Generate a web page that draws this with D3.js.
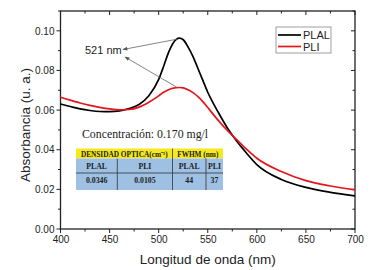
<!DOCTYPE html>
<html><head><meta charset="utf-8">
<script src="https://cdn.jsdelivr.net/npm/d3@7"></script>
<style>body{margin:0;background:#fff}svg{display:block}</style>
</head><body>
<script>
const wavelength = [400,410,420,430,440,450,460,470,480,490,500,505,510,515,521,525,530,535,540,545,550,555,560,570,580,590,600,625,650,675,700];
const plal = [0.0631,0.0618,0.0606,0.0598,0.0593,0.0592,0.0596,0.0608,0.0628,0.0672,0.0755,0.0820,0.0890,0.0940,0.0963,0.0955,0.0918,0.0870,0.0810,0.0750,0.0690,0.0640,0.0595,0.0510,0.0440,0.0380,0.0325,0.0250,0.0210,0.0185,0.0167];
const pli  = [0.0665,0.0650,0.0636,0.0624,0.0614,0.0606,0.0601,0.0603,0.0615,0.0640,0.0672,0.0690,0.0703,0.0711,0.0714,0.0712,0.0703,0.0688,0.0668,0.0643,0.0613,0.0582,0.0552,0.0497,0.0448,0.0400,0.0357,0.0290,0.0244,0.0217,0.0197];
const seriesNames = ["PLAL","PLI"];
const seriesColors = ["#000000","#e8141b"];
const xTicks = [400,450,500,550,600,650,700];
const yTicks = [0,0.02,0.04,0.06,0.08,0.10];
const peakLabel = "521 nm";
const concText = "Concentración: 0.170 mg/l";
const tableHeader = ["DENSIDAD OPTICA(cm⁻¹)","FWHM (nm)"];
const tableSub = ["PLAL","PLI","PLAL","PLI"];
const tableVals = ["0.0346","0.0105","44","37"];

const W=389,H=270;
const m={l:60.5,r:34,t:11,b:41};
const svg=d3.select("body").append("svg").attr("width",W).attr("height",H);
const x=d3.scaleLinear().domain([400,700]).range([m.l,W-m.r]);
const y=d3.scaleLinear().domain([0,0.11]).range([H-m.b,m.t]);
const x0=m.l,x1=W-m.r,y0=H-m.b,y1=m.t;

// frame
svg.append("rect").attr("x",x0).attr("y",y1).attr("width",x1-x0).attr("height",y0-y1)
  .attr("fill","none").attr("stroke","#222").attr("stroke-width",1.3);

const minorX=d3.range(400,701,25), minorY=d3.range(0,0.1101,0.01);
const tg=svg.append("g").attr("stroke","#222").attr("stroke-width",1);
minorX.forEach(v=>{const big=v%50===0;tg.append("line").attr("x1",x(v)).attr("x2",x(v)).attr("y1",y0).attr("y2",y0+(big?4:2.5));});
minorX.forEach(v=>{const big=v%50===0;tg.append("line").attr("x1",x(v)).attr("x2",x(v)).attr("y1",y1).attr("y2",y1+(big?4:2.5));});
minorY.forEach((v,i)=>{const big=i%2===0;tg.append("line").attr("x1",x0).attr("x2",x0-(big?4:2.5)).attr("y1",y(v)).attr("y2",y(v));});
minorY.forEach((v,i)=>{const big=i%2===0;tg.append("line").attr("x1",x1).attr("x2",x1-(big?4:2.5)).attr("y1",y(v)).attr("y2",y(v));});

const xa=d3.axisBottom(x).tickValues(xTicks).tickSize(0).tickPadding(7);
svg.append("g").attr("transform",`translate(0,${y0})`).call(xa)
  .call(g=>g.select(".domain").remove())
  .selectAll("text").attr("font-family","Liberation Sans, Arial").attr("font-size",10).attr("fill","#222");
const ya=d3.axisLeft(y).tickValues(yTicks).tickFormat(d3.format(".2f")).tickSize(0).tickPadding(6);
svg.append("g").attr("transform",`translate(${x0},0)`).call(ya)
  .call(g=>g.select(".domain").remove())
  .selectAll("text").attr("font-family","Liberation Sans, Arial").attr("font-size",10).attr("fill","#222");

svg.append("text").attr("x",(x0+x1)/2).attr("y",264).attr("text-anchor","middle")
  .attr("font-family","Liberation Sans, Arial").attr("font-size",13.5).attr("fill","#222").text("Longitud de onda (nm)");
svg.append("text").attr("transform",`translate(30,${(y0+y1)/2+5}) rotate(-90)`).attr("text-anchor","middle")
  .attr("font-family","Liberation Sans, Arial").attr("font-size",13.5).attr("fill","#222").text("Absorbancia (u. a.)");

// lines
const line=d3.line().x(d=>x(d[0])).y(d=>y(d[1])).curve(d3.curveMonotoneX);
[plal,pli].forEach((s,i)=>{
  svg.append("path").datum(wavelength.map((w,j)=>[w,s[j]])).attr("d",line)
    .attr("fill","none").attr("stroke",seriesColors[i]).attr("stroke-width",1.7);
});

// legend
const lg=svg.append("g");
lg.append("rect").attr("x",276).attr("y",27).attr("width",55).attr("height",26).attr("fill","#fff").attr("stroke","#888").attr("stroke-width",0.8);
seriesNames.forEach((n,i)=>{
  const yy=35+i*11.5;
  lg.append("line").attr("x1",278).attr("x2",301).attr("y1",yy).attr("y2",yy).attr("stroke",seriesColors[i]).attr("stroke-width",1.7);
  lg.append("text").attr("x",303).attr("y",yy+4).attr("font-family","Liberation Sans, Arial").attr("font-size",11).attr("fill","#222").text(n);
});

// annotation
const defs=svg.append("defs");
defs.append("marker").attr("id","ah").attr("viewBox","0 0 10 10").attr("refX",9).attr("refY",5)
  .attr("markerWidth",7).attr("markerHeight",6).attr("orient","auto")
  .append("path").attr("d","M0,1 L10,5 L0,9 z").attr("fill","#555");
svg.append("text").attr("x",85).attr("y",54).attr("font-family","Liberation Sans, Arial").attr("font-size",11).attr("fill","#222").text(peakLabel);
const pk=wavelength.indexOf(521);
svg.append("line").attr("x1",x(521)-2).attr("y1",y(plal[pk])+1).attr("x2",123).attr("y2",49.5)
  .attr("stroke","#666").attr("stroke-width",0.8).attr("marker-end","url(#ah)");
svg.append("line").attr("x1",x(521)-2).attr("y1",y(pli[pk])).attr("x2",125).attr("y2",57)
  .attr("stroke","#666").attr("stroke-width",0.8).attr("marker-end","url(#ah)");

// concentration + table
svg.append("text").attr("x",82).attr("y",138).attr("font-family","Liberation Serif, Times New Roman").attr("font-size",11.8).attr("fill","#222").text(concText);
const tx=[76,117.3,172.5,206,223];
const ty=[148.5,158.5,173,190];
svg.append("rect").attr("x",tx[0]).attr("y",ty[0]).attr("width",tx[4]-tx[0]).attr("height",ty[1]-ty[0]).attr("fill","#f5e81c");
svg.append("rect").attr("x",tx[0]).attr("y",ty[1]).attr("width",tx[4]-tx[0]).attr("height",ty[3]-ty[1]).attr("fill","#9dc0e3");
const ln=(a,b,c,d)=>svg.append("line").attr("x1",a).attr("y1",b).attr("x2",c).attr("y2",d).attr("stroke","#333").attr("stroke-width",0.8);
ln(tx[0],ty[2],tx[4],ty[2]);
ln(tx[1],ty[1],tx[1],ty[3]);
ln(tx[2],ty[0],tx[2],ty[3]);
ln(tx[3],ty[1],tx[3],ty[3]);
const tf="Liberation Serif, Times New Roman";
svg.append("text").attr("x",(tx[0]+tx[2])/2).attr("y",156.5).attr("text-anchor","middle").attr("font-family",tf).attr("font-size",7.3).attr("font-weight","bold").attr("fill","#222").text(tableHeader[0]);
svg.append("text").attr("x",(tx[2]+tx[4])/2).attr("y",156.5).attr("text-anchor","middle").attr("font-family",tf).attr("font-size",7.3).attr("font-weight","bold").attr("fill","#222").text(tableHeader[1]);
const cx=[(tx[0]+tx[1])/2,(tx[1]+tx[2])/2,(tx[2]+tx[3])/2,(tx[3]+tx[4])/2];
tableSub.forEach((t,i)=>svg.append("text").attr("x",cx[i]).attr("y",168.5).attr("text-anchor","middle").attr("font-family",tf).attr("font-size",7.8).attr("font-weight","bold").attr("fill","#222").text(t));
tableVals.forEach((t,i)=>svg.append("text").attr("x",cx[i]).attr("y",183).attr("text-anchor","middle").attr("font-family",tf).attr("font-size",7.8).attr("font-weight","bold").attr("fill","#222").text(t));
</script>
</body></html>
